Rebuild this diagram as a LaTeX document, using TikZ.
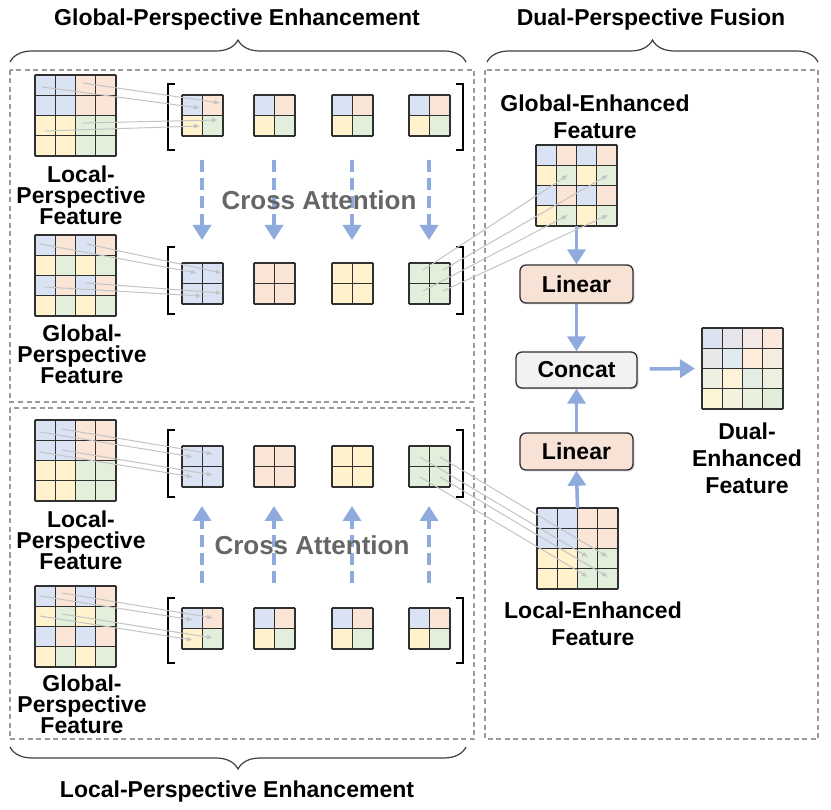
\documentclass[tikz,border=0pt]{standalone}
\usepackage{fontspec}
\setmainfont{Liberation Sans}
\usetikzlibrary{arrows.meta,decorations.pathreplacing,calc,shadows}
\definecolor{cb}{HTML}{DAE3F3}
\definecolor{cp}{HTML}{FBE5D6}
\definecolor{cy}{HTML}{FFF2CC}
\definecolor{cg}{HTML}{E2EFDA}
\definecolor{arrblue}{HTML}{8FAADC}
\definecolor{mapgray}{HTML}{C4C4C4}
\definecolor{boxgray}{HTML}{9A9A9A}
\definecolor{lingray}{HTML}{303030}
\definecolor{crossgray}{HTML}{666666}
\definecolor{linfill}{HTML}{F8E2D6}
\definecolor{catfill}{HTML}{F2F2F2}
\definecolor{da}{HTML}{DCE3F0}
\definecolor{db}{HTML}{E6E5EC}
\definecolor{dc}{HTML}{F3E8E4}
\definecolor{dd}{HTML}{FBE8DC}
\definecolor{de}{HTML}{E8E8E8}
\definecolor{df}{HTML}{E1EAEE}
\definecolor{dg}{HTML}{FDECD9}
\definecolor{dh}{HTML}{F3EDE2}
\definecolor{di}{HTML}{F0F0E2}
\definecolor{dj}{HTML}{FEF3D9}
\definecolor{dk}{HTML}{E3EDE4}
\definecolor{dl}{HTML}{EBF0E0}
\definecolor{dm}{HTML}{FEF4D6}
\definecolor{dn}{HTML}{F3F2DC}
\definecolor{do}{HTML}{E9F0DC}
\definecolor{dp}{HTML}{E0EED9}

\tikzset{
  gridline/.style={draw=lingray, line width=1.2pt, line cap=square},
  gridnode/.style={inner sep=0pt, outer sep=0pt, draw=none},
  bracket/.style={draw=black, line width=1.8pt},
  mapline/.style={draw=mapgray, line width=1pt, -{Latex[length=6pt,width=5pt]}},
  bluearrow/.style={draw=arrblue, line width=3.5pt, -{Triangle[length=15pt,width=18pt]}},
  dasharrow/.style={draw=arrblue, line width=3.5pt, dash pattern=on 12pt off 6pt, -{Triangle[length=15pt,width=18pt]}},
  dashbox/.style={draw=boxgray, line width=1.3pt, dash pattern=on 5pt off 3.5pt},
  lbl/.style={align=center, inner sep=0pt, font=\fontsize{23}{20.5}\selectfont\bfseries},
  rlbl/.style={align=center, inner sep=0pt, font=\fontsize{23}{27}\selectfont\bfseries},
  ttl/.style={inner sep=0pt, font=\fontsize{23}{27}\selectfont\bfseries},
  cross/.style={inner sep=0pt, text=crossgray, font=\fontsize{26}{30}\selectfont\bfseries},
  opbox/.style={draw=lingray, line width=1.3pt, rounded corners=6pt, font=\fontsize{23}{27}\selectfont\bfseries,
     drop shadow={shadow xshift=1.5pt, shadow yshift=-1.5pt, opacity=0.3}},
  bracestyle/.style={draw=black!75, line width=1.2pt, decorate},
}

\newcommand{\BigGrid}[4]{%
  \foreach \cl [count=\i from 0] in {#4} {%
    \pgfmathtruncatemacro{\rr}{\i/4}%
    \pgfmathtruncatemacro{\cc}{\i-4*\rr}%
    \fill[\cl] ({#2+\cc*20.25},{#3+\rr*20.25}) rectangle ++(20.25,20.25);
  }%
  \foreach \k in {0,...,4} {%
    \draw[gridline] ({#2+\k*20.25},#3) -- ++(0,81);
    \draw[gridline] (#2,{#3+\k*20.25}) -- ++(81,0);
  }%
  \node[gridnode, minimum size=81pt, anchor=north west] (#1) at (#2,#3) {};
}
\newcommand{\SmallGrid}[4]{%
  \foreach \cl [count=\i from 0] in {#4} {%
    \pgfmathtruncatemacro{\rr}{\i/2}%
    \pgfmathtruncatemacro{\cc}{\i-2*\rr}%
    \fill[\cl] ({#2+\cc*20.5},{#3+\rr*20.5}) rectangle ++(20.5,20.5);
  }%
  \foreach \k in {0,1,2} {%
    \draw[gridline] ({#2+\k*20.5},#3) -- ++(0,41);
    \draw[gridline] (#2,{#3+\k*20.5}) -- ++(41,0);
  }%
  \node[gridnode, minimum size=41pt, anchor=north west] (#1) at (#2,#3) {};
}
\newcommand{\Brackets}[2]{%
  \draw[bracket] (175,#1) -- (168,#1) -- (168,#2) -- (175,#2);
  \draw[bracket] (456,#1) -- (463,#1) -- (463,#2) -- (456,#2);
}

\begin{document}
\begin{tikzpicture}[x=1pt,y=-1pt]
\useasboundingbox (0,0) rectangle (831,810);
\fill[white] (0,0) rectangle (831,810);

% titles and braces
\node[ttl] (t1) at (237,20) {Global-Perspective Enhancement};
\node[ttl] (t2) at (651,20) {Dual-Perspective Fusion};
\node[ttl] (t3) at (237,792) {Local-Perspective Enhancement};
\draw[bracestyle, decoration={brace, amplitude=22pt}] (10,62) -- (466,62);
\draw[bracestyle, decoration={brace, amplitude=22pt}] (487,62) -- (818,62);
\draw[bracestyle, decoration={brace, amplitude=22pt}] (466,747) -- (10,747);

% dashed boxes
\draw[dashbox] (10,70) rectangle (474,402);
\draw[dashbox] (10,408) rectangle (474,739);
\draw[dashbox] (485,70) rectangle (818,739);

% ---------- top block ----------
\BigGrid{TL}{35}{75}{cb,cb,cp,cp,cb,cb,cp,cp,cy,cy,cg,cg,cy,cy,cg,cg}
\BigGrid{TG}{35}{235}{cb,cp,cb,cp,cy,cg,cy,cg,cb,cp,cb,cp,cy,cg,cy,cg}
\node[lbl, anchor=north] (TLl) at (81,166) {Local-\\Perspective\\Feature};
\node[lbl, anchor=north] (TGl) at (82,325) {Global-\\Perspective\\Feature};

\Brackets{84}{150}
\Brackets{247}{314}
\SmallGrid{A1}{182}{95}{cb,cp,cy,cg}
\SmallGrid{A2}{254}{95}{cb,cp,cy,cg}
\SmallGrid{A3}{332}{95}{cb,cp,cy,cg}
\SmallGrid{A4}{409}{95}{cb,cp,cy,cg}
\SmallGrid{B1}{182}{263}{cb,cb,cb,cb}
\SmallGrid{B2}{254}{263}{cp,cp,cp,cp}
\SmallGrid{B3}{332}{263}{cy,cy,cy,cy}
\SmallGrid{B4}{409}{263}{cg,cg,cg,cg}

\foreach \n/\x in {1/202,2/274,3/352,4/429} {
  \coordinate (ds\n) at (\x,160);
  \coordinate (de\n) at (\x,240);
  \draw[dasharrow] (ds\n) -- (de\n);
}
\node[cross] (ca1) at (319,200) {Cross Attention};

% ---------- bottom block ----------
\BigGrid{BL}{35}{420}{cb,cb,cp,cp,cb,cb,cp,cp,cy,cy,cg,cg,cy,cy,cg,cg}
\BigGrid{BG}{35}{586}{cb,cp,cb,cp,cy,cg,cy,cg,cb,cp,cb,cp,cy,cg,cy,cg}
\node[lbl, anchor=north] (BLl) at (81,511) {Local-\\Perspective\\Feature};
\node[lbl, anchor=north] (BGl) at (82,675) {Global-\\Perspective\\Feature};

\Brackets{430}{497}
\Brackets{598}{663}
\SmallGrid{C1}{182}{446}{cb,cb,cb,cb}
\SmallGrid{C2}{254}{446}{cp,cp,cp,cp}
\SmallGrid{C3}{332}{446}{cy,cy,cy,cy}
\SmallGrid{C4}{409}{446}{cg,cg,cg,cg}
\SmallGrid{D1}{182}{608}{cb,cp,cy,cg}
\SmallGrid{D2}{254}{608}{cb,cp,cy,cg}
\SmallGrid{D3}{332}{608}{cb,cp,cy,cg}
\SmallGrid{D4}{409}{608}{cb,cp,cy,cg}

\foreach \n/\x in {1/202,2/274,3/352,4/429} {
  \coordinate (us\n) at (\x,583);
  \coordinate (ue\n) at (\x,506);
  \draw[dasharrow] (us\n) -- (ue\n);
}
\node[cross] (ca2) at (312,545) {Cross Attention};

% ---------- right block ----------
\BigGrid{GE}{536}{145}{cb,cp,cb,cp,cy,cg,cy,cg,cb,cp,cb,cp,cy,cg,cy,cg}
\BigGrid{LE}{537}{508}{cb,cb,cp,cp,cb,cb,cp,cp,cy,cy,cg,cg,cy,cy,cg,cg}
\BigGrid{DE}{702}{328}{da,db,dc,dd,de,df,dg,dh,di,dj,dk,dl,dm,dn,do,dp}
\node[rlbl, anchor=north] (GEl) at (595,95) {Global-Enhanced\\Feature};
\node[rlbl, anchor=north] (LEl) at (593,602) {Local-Enhanced\\Feature};
\node[rlbl, anchor=north] (DEl) at (747,423) {Dual-\\Enhanced\\Feature};

\node[opbox, fill=linfill, minimum width=113pt, minimum height=38pt] (lin1) at (576.5,284) {Linear};
\node[opbox, fill=catfill, minimum width=121pt, minimum height=36pt] (cat) at (576.5,370) {Concat};
\node[opbox, fill=linfill, minimum width=113pt, minimum height=37pt] (lin2) at (576.5,451.5) {Linear};

\draw[bluearrow] (GE.south) -- (lin1.north);
\draw[bluearrow] (lin1.south) -- (cat.north);
\draw[bluearrow] (lin2.north) -- (cat.south);
\draw[bluearrow] (LE.north) -- (lin2.south);
\draw[bluearrow] ([xshift=12pt,yshift=1pt]cat.east) -- ([xshift=-7pt]DE.west);

% ---------- mapping lines ----------
\foreach \n/\a/\b/\c/\d in {
  a1/42/87/200/108, a2/83/83/220/103, a3/82/123/218/120, a4/45/131/200/126,
  b1/40/244/197/273, b2/87/244/222/273, b3/45/287/202/296, b4/86/283/222/293,
  g1/423/270/568/175, g2/443/270/608/175, g3/423/291/568/215, g4/443/291/608/215,
  c1/40/432/193/457, c2/62/429/213/454, c3/40/452/193/477, c4/62/450/213/475,
  l1/420/457/588/557, l2/440/457/608/557, l3/420/477/588/577, l4/440/477/608/577,
  d1/40/596/193/620, d2/62/593/213/618, d3/40/616/193/640, d4/62/614/213/638} {
  \coordinate (\n s) at (\a,\b);
  \coordinate (\n e) at (\c,\d);
  \draw[mapline] (\n s) -- (\n e);
}
\end{tikzpicture}
\end{document}
